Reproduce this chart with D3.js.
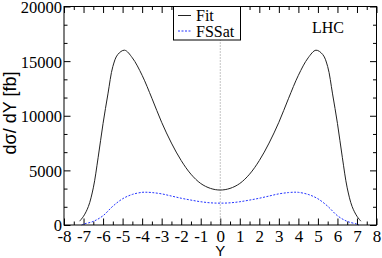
<!DOCTYPE html>
<html>
<head>
<meta charset="utf-8">
<script src="https://cdn.jsdelivr.net/npm/d3@7"></script>
<style>
  body { margin: 0; background: #fff; }
  svg { display: block; }
  .tick text { font-family: "Liberation Serif", "Times New Roman", serif; font-size: 17px; fill: #000; }
</style>
</head>
<body>
<div class="chart"></div>
<script>
// rapidity distribution, Fit vs FSSat
var fitY = [-7.2, -7, -6.75, -6.5, -6.25, -6, -5.75, -5.5, -5.25, -4.9, -4.5, -4, -3.5, -3, -2.5, -2, -1.5, -1, -0.5, 0,
            0.5, 1, 1.5, 2, 2.5, 3, 3.5, 4, 4.5, 4.9, 5.25, 5.5, 5.75, 6, 6.25, 6.5, 6.75, 7, 7.2];
var fitVal = [350, 800, 1700, 3400, 6200, 9300, 12000, 14500, 15600, 16000, 15300, 13700, 11600, 9400, 7500, 5900, 4650, 3800, 3350, 3200,
              3350, 3800, 4650, 5900, 7500, 9400, 11600, 13700, 15300, 16000, 15600, 14500, 12000, 9300, 6200, 3400, 1700, 800, 350];
var satY = [-7.1, -7, -6.5, -6, -5.5, -5, -4.5, -4, -3.8, -3.5, -3, -2.5, -2, -1.5, -1, -0.5, 0,
            0.5, 1, 1.5, 2, 2.5, 3, 3.5, 3.8, 4, 4.5, 5, 5.5, 6, 6.5, 7, 7.1];
var satVal = [0, 80, 330, 850, 1720, 2400, 2800, 2990, 3000, 2970, 2850, 2650, 2450, 2280, 2130, 2030, 2000,
              2030, 2130, 2280, 2450, 2650, 2850, 2970, 3000, 2990, 2800, 2400, 1720, 850, 330, 80, 0];
var xTicks = d3.range(-8, 9, 1);
var yTicks = [0, 5000, 10000, 15000, 20000];
var seriesNames = ["Fit", "FSSat"];

var svgWidth = 382, svgHeight = 258;
var margin = {top: 6.5, right: 5.5, bottom: 33, left: 64};
var width = svgWidth - margin.left - margin.right;
var height = svgHeight - margin.top - margin.bottom;

var svg = d3.select(".chart").append("svg").attr("width", svgWidth).attr("height", svgHeight);
var g = svg.append("g").attr("transform", `translate(${margin.left}, ${margin.top})`);

var x = d3.scaleLinear().domain([-8, 8]).range([0, width]);
var y = d3.scaleLinear().domain([0, 20000]).range([height, 0]);

// inward ticks on all four sides
var xMinor = d3.range(-7.5, 8, 1);
var yMinor = d3.range(0, 20001, 5000 / 3).filter(v => Math.abs(v / 5000 - Math.round(v / 5000)) > 0.01);

function tickAxis(axis, values, len, showLabels) {
  return axis.tickValues(values).tickSizeInner(-len).tickSizeOuter(0).tickPadding(len + 3)
    .tickFormat(showLabels ? (d => String(d)) : "");
}

var bottom = g.append("g").attr("transform", `translate(0, ${height})`).call(tickAxis(d3.axisBottom(x), xTicks, 6.5, true));
g.append("g").attr("transform", `translate(0, ${height})`).call(tickAxis(d3.axisBottom(x), xMinor, 3.5, false));
g.append("g").call(tickAxis(d3.axisTop(x), xTicks, 6.5, false));
g.append("g").call(tickAxis(d3.axisTop(x), xMinor, 3.5, false));
var left = g.append("g").call(tickAxis(d3.axisLeft(y), yTicks, 6.5, true));
g.append("g").call(tickAxis(d3.axisLeft(y), yMinor, 3.5, false));
g.append("g").attr("transform", `translate(${width}, 0)`).call(tickAxis(d3.axisRight(y), yTicks, 6.5, false));
g.append("g").attr("transform", `translate(${width}, 0)`).call(tickAxis(d3.axisRight(y), yMinor, 3.5, false));
g.selectAll(".domain").remove();
bottom.selectAll(".tick text").attr("y", 3).attr("dy", "0.82em");
left.selectAll(".tick text").attr("x", -2).attr("dy", "0.36em").style("font-size", "16.5px");
g.selectAll(".tick line").attr("stroke", "#000");

// zero line
g.append("line").attr("x1", x(0)).attr("x2", x(0)).attr("y1", 0).attr("y2", height)
  .attr("stroke", "#888").attr("stroke-width", 1).attr("stroke-dasharray", "1,2");

var line = d3.line().x(d => x(d[0])).y(d => y(d[1])).curve(d3.curveCatmullRom);
g.append("path").datum(fitY.map((v, i) => [v, fitVal[i]]))
  .attr("d", line).attr("fill", "none").attr("stroke", "#222").attr("stroke-width", 1);
g.append("path").datum(satY.map((v, i) => [v, satVal[i]]))
  .attr("d", line).attr("fill", "none").attr("stroke", "#2233ff").attr("stroke-width", 1).attr("stroke-dasharray", "2,1.5");

// frame
g.append("rect").attr("width", width).attr("height", height).attr("fill", "none").attr("stroke", "#000").attr("stroke-width", 1);

// legend
var lg = svg.append("g");
lg.append("rect").attr("x", 173.5).attr("y", 6.5).attr("width", 67).attr("height", 33.5)
  .attr("fill", "#fff").attr("stroke", "#000").attr("stroke-width", 1);
lg.append("line").attr("x1", 178).attr("x2", 191).attr("y1", 15.5).attr("y2", 15.5).attr("stroke", "#222");
lg.append("line").attr("x1", 178).attr("x2", 191).attr("y1", 31).attr("y2", 31).attr("stroke", "#2233ff").attr("stroke-dasharray", "2,1.5");
lg.selectAll("text.leg").data(seriesNames).enter().append("text").attr("class", "leg")
  .attr("x", 196).attr("y", (d, i) => 20.5 + i * 16)
  .style("font-family", "'Liberation Serif', serif").style("font-size", "16px").text(d => d);

// labels
svg.append("text").attr("x", 312).attr("y", 32.5)
  .style("font-family", "'Liberation Serif', serif").style("font-size", "16px").text("LHC");
svg.append("text").attr("transform", `translate(16, 113) rotate(-90)`).attr("text-anchor", "middle")
  .style("font-family", "'Liberation Sans', Arial, sans-serif").style("font-size", "18px").text("dσ/ dY [fb]");
svg.append("text").attr("x", margin.left + x(0)).attr("y", 256).attr("text-anchor", "middle")
  .style("font-family", "'Liberation Sans', Arial, sans-serif").style("font-size", "15px").text("Y");
</script>
</body>
</html>
